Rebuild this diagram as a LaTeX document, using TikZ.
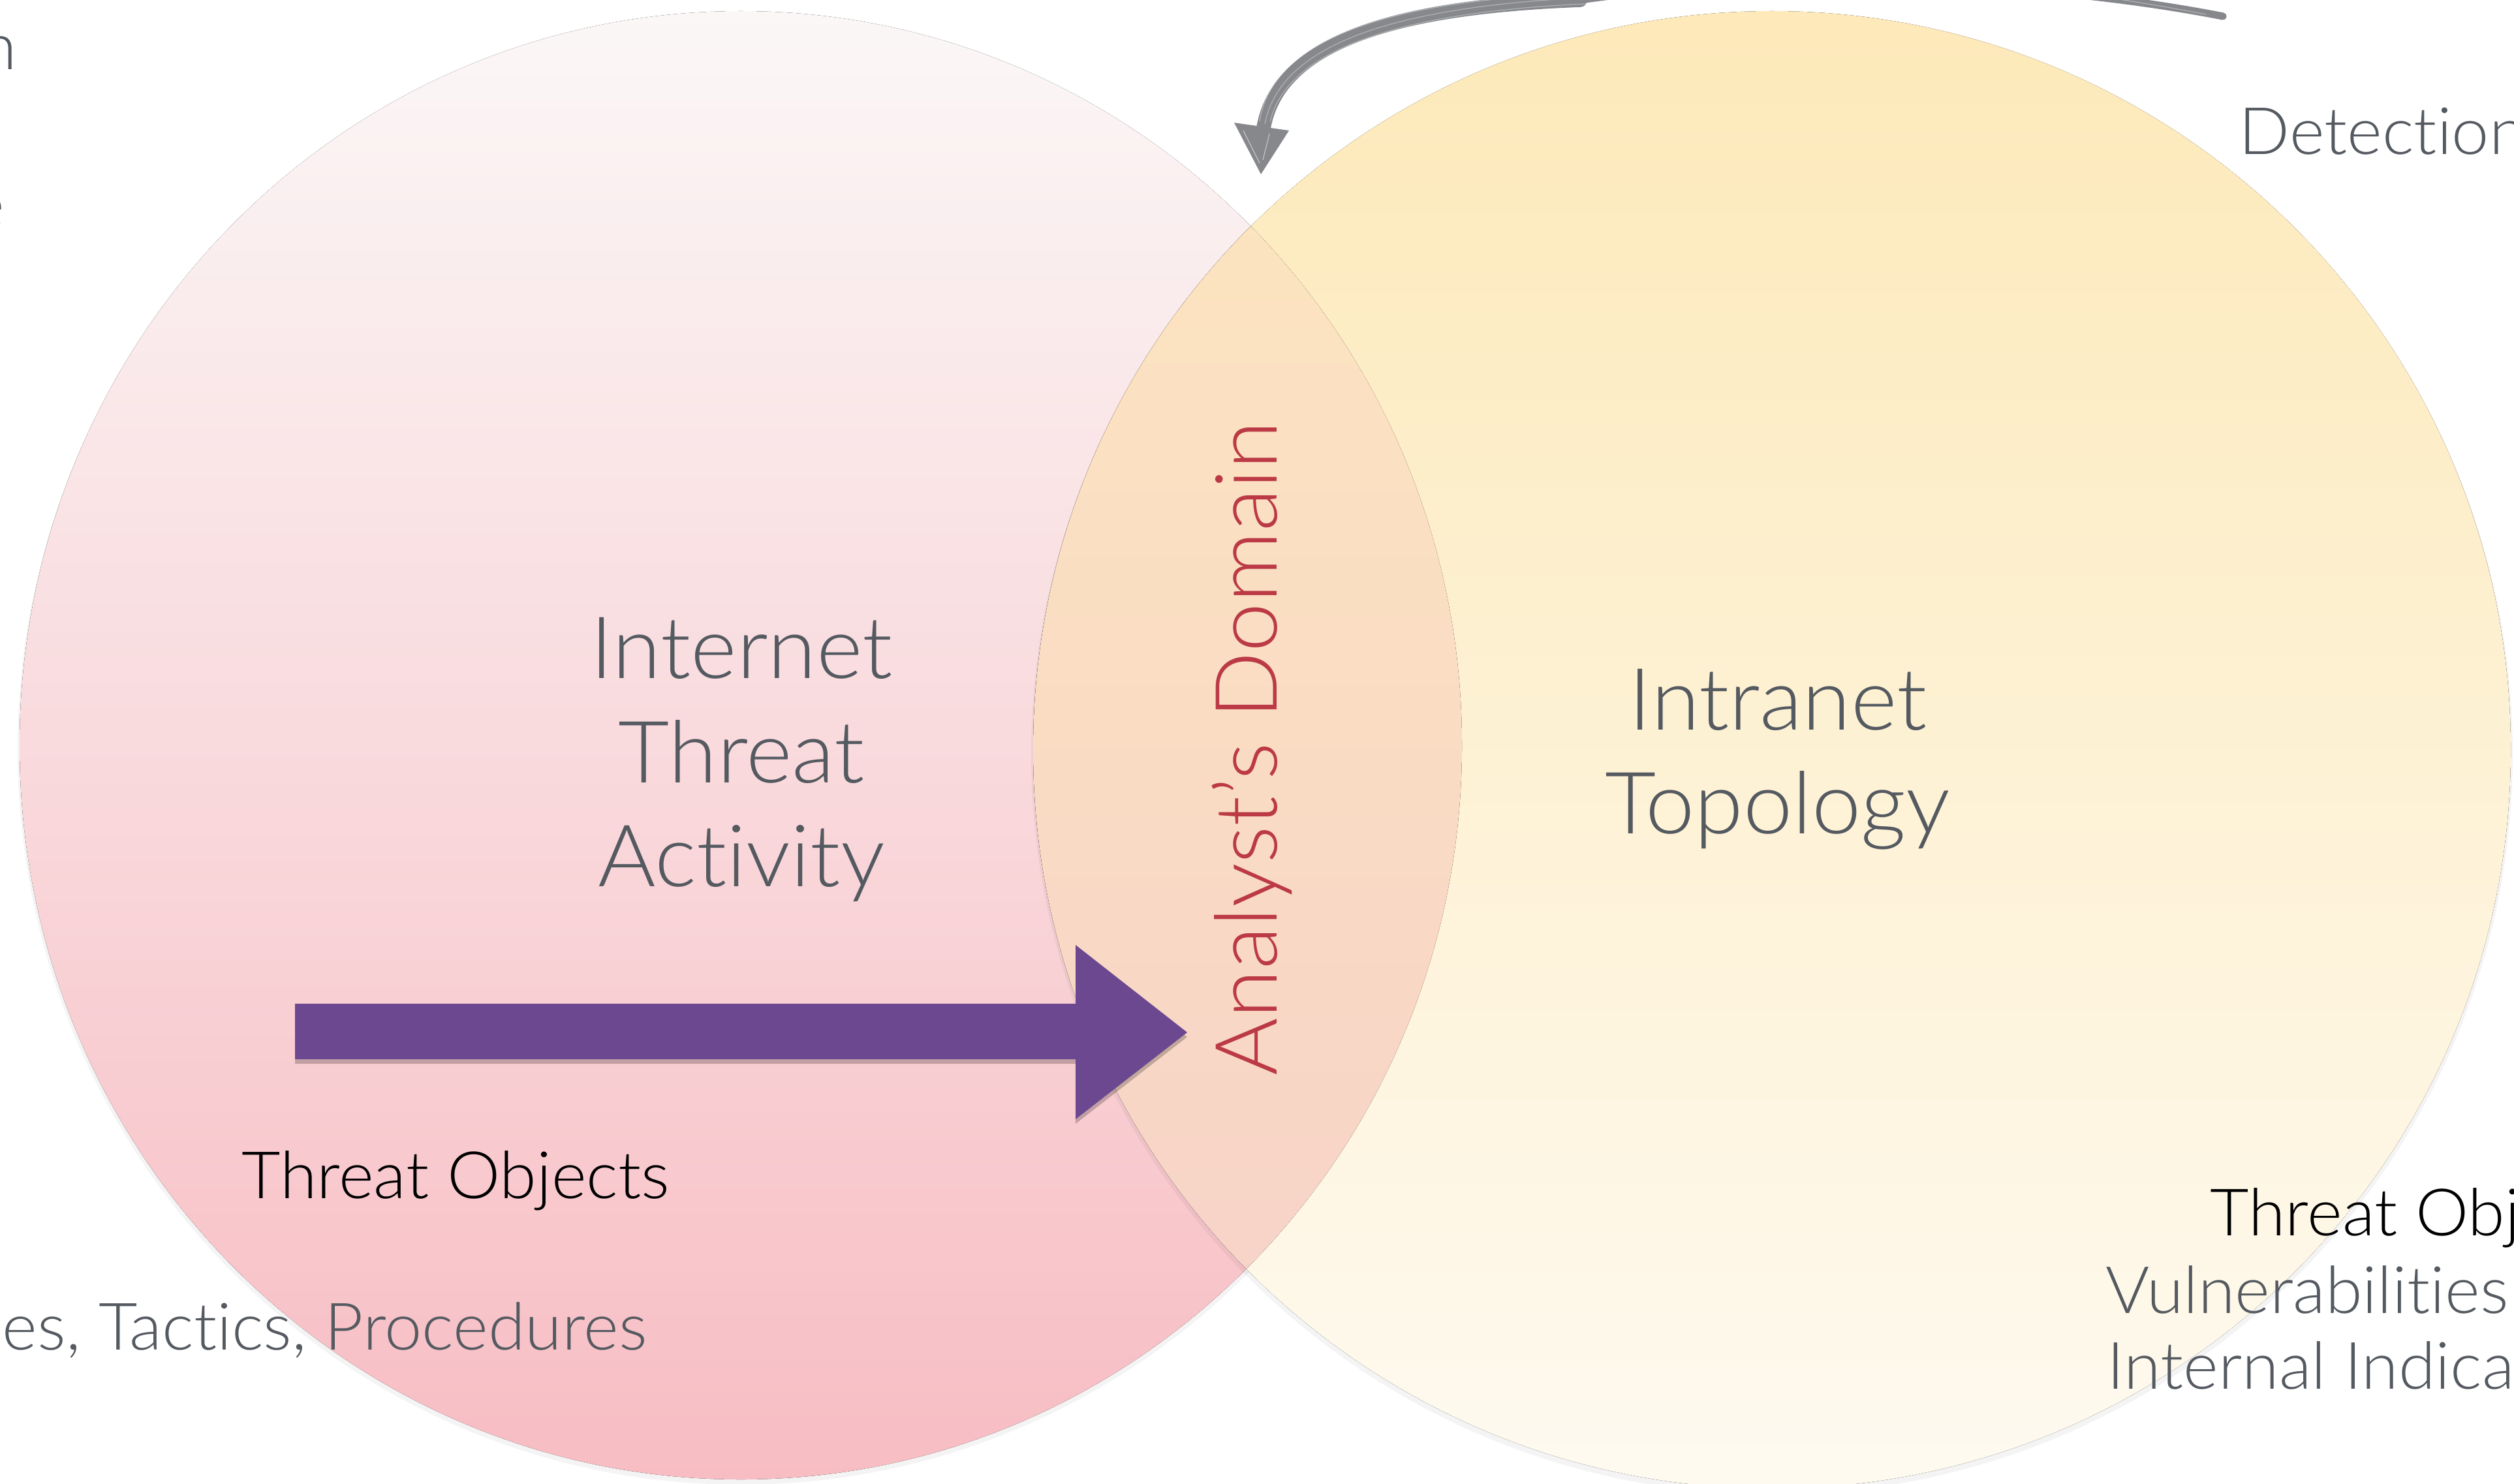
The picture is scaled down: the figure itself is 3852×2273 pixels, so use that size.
\documentclass[tikz,border=0pt]{standalone}
\usepackage{fontspec}
\setmainfont{Lato}[UprightFont={* Light}, Ligatures={NoCommon}, FakeStretch=1.025]
\definecolor{txtgray}{HTML}{555A61}
\definecolor{domred}{HTML}{BB3A45}
\definecolor{arrowpurple}{HTML}{6B4890}
\definecolor{brushgray}{HTML}{86888C}
\definecolor{pinktop}{HTML}{FBF7F7}
\definecolor{pinkmid}{HTML}{F9DDE1}
\definecolor{pinkbot}{HTML}{F7BDC3}
\definecolor{yeltop}{HTML}{FDE9B9}
\definecolor{yelmid}{HTML}{FEF3D9}
\definecolor{yelbot}{HTML}{FEFAF0}
\definecolor{lenstop}{HTML}{FDE7BE}
\definecolor{lensmid}{HTML}{F9DCC6}
\definecolor{lensbot}{HTML}{F6D0C9}
\tikzset{
  bigtxt/.style={font=\fontsize{37.5}{45}\selectfont, text=txtgray, inner sep=0pt},
  smalltxt/.style={font=\fontsize{28.5}{34}\selectfont, text=txtgray, inner sep=0pt},
  softshadow/.style={fill=black, opacity=0.045},
  brush/.style={draw=brushgray, line cap=round},
  bristle/.style={draw=white, opacity=0.35, line width=0.35pt},
}
\begin{document}
\begin{tikzpicture}[x=0.01cm, y=-0.01cm]
  \useasboundingbox (0,0) rectangle (3852,2273);
  \fill[white] (0,0) rectangle (3852,2273);
  \clip (0,0) rectangle (3852,2273);

  % left circle: internet threat activity
  \fill[softshadow] (1135,1148) ellipse (1108 and 1127);
  \fill[top color=pinktop, middle color=pinkmid, bottom color=pinkbot]
    (1135,1142) ellipse (1105 and 1125);

  % right circle: intranet topology
  \fill[softshadow] (2715,1155) circle (1135);
  \fill[top color=yeltop, middle color=yelmid, bottom color=yelbot]
    (2715,1149) circle (1132);

  % overlap of the two circles
  \begin{scope}
    \clip (1135,1142) ellipse (1105 and 1125);
    \fill[top color=lenstop, middle color=lensmid, bottom color=lensbot]
      (2715,1149) circle (1132);
  \end{scope}

  % purple arrow into the overlap
  \fill[black, opacity=0.22]
    (452,1545) -- (1648,1545) -- (1648,1455) -- (1819,1589) -- (1648,1722)
    -- (1648,1630) -- (452,1630) -- cycle;
  \fill[arrowpurple]
    (452,1538) -- (1648,1538) -- (1648,1448) -- (1819,1582) -- (1648,1715)
    -- (1648,1623) -- (452,1623) -- cycle;

  % brushed feedback arrow along the top
  \coordinate (bstart) at (3406,25);
  \coordinate (bjoin) at (2421,0);
  \coordinate (bend) at (1936,196);
  \coordinate (btip) at (1932,267);
  \draw[brush, line width=3.2pt]
    (bstart) .. controls (3100,-35) and (2700,-40) .. (bjoin);
  \draw[brush, line width=6.2pt]
    (bjoin) .. controls (2150,10) and (1960,60) .. (bend);
  \fill[brushgray] (1891,188) -- (1975,200) -- (btip) -- cycle;
  % dry-brush streaks
  \draw[bristle] (2400,-2) .. controls (2140,14) and (1962,66) .. (1938,190);
  \draw[bristle] (2430,6) .. controls (2160,18) and (1975,70) .. (1946,186);
  \draw[bristle] (2380,-8) .. controls (2130,6) and (1950,58) .. (1930,186);
  \draw[bristle] (3380,22) .. controls (3150,-22) and (3000,-30) .. (2900,-30);
  \draw[bristle, opacity=0.5] (1905,200) -- (1930,250);
  \draw[bristle, opacity=0.5] (1945,205) -- (1935,245);

  % labels
  \node[bigtxt, anchor=base] (inet1) at (1136,1039) {Internet};
  \node[bigtxt, anchor=base] (inet2) at (1136,1199) {Threat};
  \node[bigtxt, anchor=base] (inet3) at (1136,1358) {Activity};
  \node[bigtxt, anchor=base] (intra1) at (2724,1118) {Intranet};
  \node[bigtxt, anchor=base] (intra2) at (2724,1277) {Topology};
  \node[bigtxt, text=domred, rotate=90, anchor=base] (dom) at (1956,1147) {Analyst’s Domain};

  \node[smalltxt, text=black, anchor=base west] (tobjL) at (370,1836) {Threat Objects};
  \node[smalltxt, anchor=base east] (ttp) at (992,2068) {es, Tactics, Procedures};
  \node[smalltxt, anchor=base west] (det) at (3430,237) {Detection,};
  \node[smalltxt, text=black, anchor=base west] (tobjR) at (3386,1893) {Threat Obj};
  \node[smalltxt, anchor=base west] (vuln) at (3226,2012) {Vulnerabilities};
  \node[smalltxt, anchor=base west] (intind) at (3228,2128) {Internal Indica};
  \node[smalltxt, anchor=base east] (cutn) at (27,107) {n};
  \node[smalltxt, anchor=base east] (cute) at (8,349) {e};
\end{tikzpicture}
\end{document}
